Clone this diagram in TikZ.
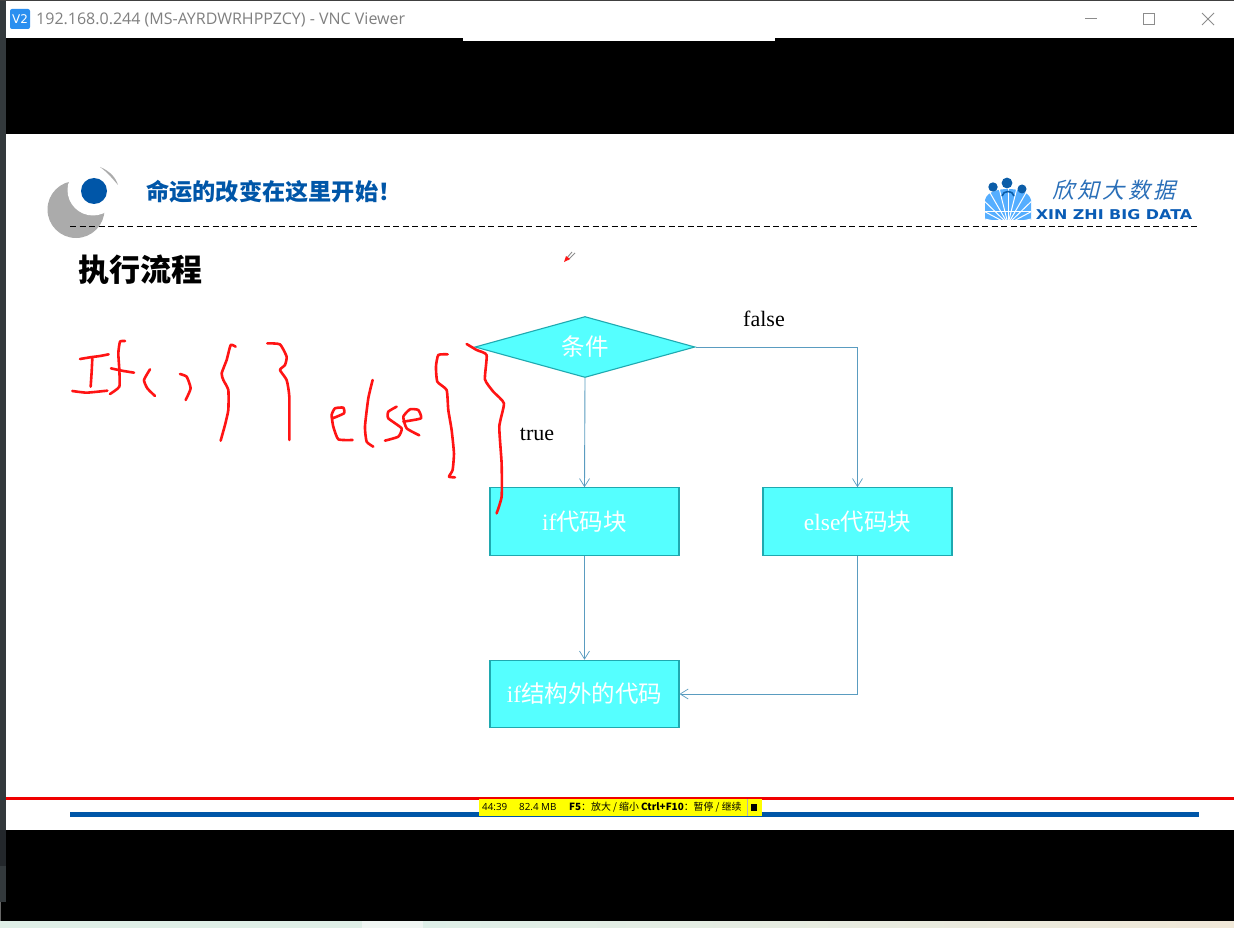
\documentclass[tikz,border=0pt]{standalone}
\usepackage{fontspec}
\setmainfont{Liberation Serif}
\newfontfamily\cjk{Noto Sans CJK SC}
\newfontfamily\ui{Open Sans}
\newfontfamily\uis{DejaVu Sans}
\usetikzlibrary{shapes.geometric,arrows.meta}
\definecolor{cy}{HTML}{55FFFF}
\definecolor{cyb}{HTML}{1FA9B0}
\definecolor{conn}{HTML}{5A9CC0}
\definecolor{brand}{HTML}{0056A8}
\definecolor{ink}{HTML}{FF1414}
\definecolor{stripA}{HTML}{DFEFE7}
\definecolor{stripB}{HTML}{F0F6F3}
\definecolor{stripC}{HTML}{DEEFE8}
\definecolor{stripD}{HTML}{F0E8D8}
\definecolor{frameA}{HTML}{33393C}
\definecolor{frameB}{HTML}{23272B}
\definecolor{vnc}{HTML}{2A8FF0}
\definecolor{logoA}{HTML}{55AEFF}
\definecolor{logoB}{HTML}{0B5DA8}
\definecolor{logoC}{HTML}{2A6FB8}
\definecolor{logoD}{HTML}{0A5CB5}
\definecolor{footred}{HTML}{F00000}
\definecolor{statbar}{HTML}{FFFF00}
\tikzset{
 x=1pt,y=-1pt,
 flowbox/.style={draw=cyb,fill=cy,line width=1.1pt,rectangle,minimum width=189pt,minimum height=67.5pt,inner sep=0pt,text=white,font=\fontsize{23.5}{25}\selectfont},
 flowdia/.style={draw=cyb,fill=cy,line width=1.1pt,diamond,aspect=3.58,minimum width=220pt,minimum height=61pt,inner sep=0pt,text=white,font=\fontsize{23.5}{25}\selectfont},
 conn/.style={draw=conn,line width=0.9pt,-{Straight Barb[length=8pt,width=10pt,line width=0.7pt]}},
 lab/.style={inner sep=0pt,font=\fontsize{22}{24}\selectfont},
 pen/.style={draw=ink,line width=2.6pt,line cap=round,line join=round},
 winbtn/.style={draw=black!45,line width=0.8pt}
}
\begin{document}
\begin{tikzpicture}
\useasboundingbox (0,0) rectangle (1234,928);
% window frame
\fill[white] (0,0) rectangle (1234,928);
\fill[frameA] (0,0) rectangle (6,902);
\fill[frameB] (0,830) rectangle (6,866);
\fill[black] (6,38) rectangle (1234,134);
\fill[black] (6,830) rectangle (1234,921);
\fill[black] (1,902) rectangle (6,921);
\fill[black!60] (0,902) rectangle (1,921);
\fill[white] (463,38) rectangle (775,41);
\fill[black!75] (0,0) rectangle (1234,1);
\fill[stripA] (0,921) rectangle (362,928);
\fill[stripB] (362,921) rectangle (423,928);
\shade[left color=stripC,right color=stripD] (423,921) rectangle (1234,928);
% title bar
\fill[vnc,rounded corners=2pt] (10,9) rectangle (30,29);
\node[inner sep=0pt,text=white,font=\uis\fontsize{12}{14}\selectfont] (vnclogo) at (20,19) {V2};
\node[anchor=west,inner sep=0pt,text=black!50,font=\ui\fontsize{16}{18}\selectfont] (wintitle) at (36,20) {192.168.0.244 (MS-AYRDWRHPPZCY) - VNC Viewer};
\draw[winbtn] (1085,18.5) -- (1097,18.5);
\draw[winbtn] (1143.5,13.5) rectangle (1154.5,24.5);
\draw[winbtn] (1202,13) -- (1214,25) (1214,13) -- (1202,25);
% slide header
\fill[black!33] (76,209.5) circle (28.5);
\fill[white] (93,190) circle (25.5);
\fill[black!33] (100,167) .. controls (110,171) and (116,178) .. (118,185) .. controls (112,178) and (107,172) .. (100,167) -- cycle;
\fill[brand] (94,191) circle (13);
\node[anchor=west,inner sep=0pt,text=brand,font=\cjk\bfseries\fontsize{23.2}{25}\selectfont] (motto) at (146,192) {命运的改变在这里开始！};
\draw[black,line width=1pt,dash pattern=on 6pt off 3.5pt] (70,227) -- (1199,227);
\node[anchor=west,inner sep=0pt,text=black,font=\cjk\bfseries\fontsize{31}{33}\selectfont] (head) at (78,270) {执行流程};
% pointer
\draw[black!45,line width=0.9pt] (566,259) -- (572,252) (568,260) -- (575,253);
\fill[ink] (564,262) -- (566,256) -- (570,259) -- cycle;
% brand logo
\fill[logoA] (985,220) -- (985,200) .. controls (987,191) and (1000,189) .. (1008,189) .. controls (1016,189) and (1029,191) .. (1031,200) -- (1031,220) -- cycle;
\begin{scope}
\clip (985,188) rectangle (1031,220);
\foreach \a in {12,28,44,60,76,90,104,120,136,152,168}{\draw[white,line width=1pt] (1008,224) -- ++(\a:-38);}
\draw[white,line width=1pt] (985,212) -- (1031,212);
\end{scope}
\draw[logoB,line width=1.6pt] (1002,196) .. controls (1003,190) and (1013,190) .. (1014,196);
\fill[logoB] (993,187) circle (4.7) (1007,183) circle (5.4) (1022,189) circle (4.5);
\node[anchor=west,inner sep=0pt,text=logoC,font=\cjk\fontsize{22}{24}\selectfont] (cnbrand) at (1052,190) {\addfontfeature{LetterSpace=15,FakeSlant=0.25}欣知大数据};
\node[anchor=center,inner sep=0pt,text=logoD,xscale=1.18,font=\uis\bfseries\fontsize{13.5}{15}\selectfont] (enbrand) at (1114,214.5) {XIN ZHI BIG DATA};
% flowchart
\node[flowdia] (cond) at (585,347) {\cjk 条件};
\node[flowbox] (ifb) at (584.5,521.5) {if\cjk 代码块};
\node[flowbox] (elseb) at (857.5,521.5) {else\cjk 代码块};
\node[flowbox] (out) at (584.5,694) {if\cjk 结构外的代码};
\draw[conn] (cond.south) -- (ifb.north);
\draw[conn] (cond.east) -| (elseb.north);
\draw[conn] (ifb.south) -- (out.north);
\draw[conn] (elseb.south) |- (out.east);
\node[lab] (ltrue) at (537,434) {true};
\node[lab] (lfalse) at (764,319) {false};
% footer
\fill[footred] (6,797) rectangle (1234,799.5);
\fill[brand] (70,812) rectangle (1199,817);
\fill[statbar] (479,799) rectangle (762,816);
\draw[black!30,line width=0.6pt] (747,799) -- (747,816);
\fill[black] (751,804) rectangle (757,811);
\node[anchor=west,inner sep=0pt,font=\ui\fontsize{9.8}{10}\selectfont] (stat1) at (482,807.5) {44:39};
\node[anchor=west,inner sep=0pt,font=\ui\fontsize{9.8}{10}\selectfont] (stat2) at (519,807.5) {82.4 MB};
\node[anchor=west,inner sep=0pt,font=\cjk\fontsize{9.9}{10}\selectfont] (stat3) at (569,807.5) {\textbf{F5}：放大 / 缩小 \textbf{Ctrl+F10}：暂停 / 继续};
% ink strokes, in 3x coordinates
\begin{scope}[shift={(60,330)},x=0.3333pt,y=-0.3333pt]
\draw[pen] plot[smooth,tension=0.3] coordinates {(60,87)(90,82)(120,78)(146,73)};
\draw[pen] plot[smooth,tension=0.3] coordinates {(97,85)(95,125)(92,170)};
\draw[pen] plot[smooth,tension=0.3] coordinates {(37,183)(80,188)(142,182)};
\draw[pen] plot[smooth,tension=0.3] coordinates {(195,33)(180,35)(175,70)(178,120)(178,170)(150,192)};
\draw[pen] plot[smooth,tension=0.3] coordinates {(153,115)(185,122)(222,128)};
\draw[pen] plot[smooth,tension=0.3] coordinates {(270,118)(252,150)(262,175)(285,198)};
\draw[pen] plot[smooth,tension=0.3] coordinates {(360,132)(380,140)(392,175)(377,210)};
\draw[pen] plot[smooth,tension=0.3] coordinates {(527,50)(512,45)(500,90)(485,130)(490,150)(505,180)(505,240)(495,285)(482,332)};
\draw[pen] plot[smooth,tension=0.3] coordinates {(622,40)(660,43)(680,80)(675,105)(660,120)(680,150)(688,200)(688,330)};
\draw[pen] plot[smooth,tension=0.3] coordinates {(818,265)(852,250)(850,233)(825,235)(815,255)(820,290)(835,328)(878,330)};
\draw[pen] plot[smooth,tension=0.3] coordinates {(938,150)(925,205)(915,290)(920,335)(940,350)};
\draw[pen] plot[smooth,tension=0.3] coordinates {(1010,230)(985,245)(985,265)(1025,295)(1015,320)(975,332)};
\draw[pen] plot[smooth,tension=0.3] coordinates {(1030,275)(1083,265)(1075,240)(1050,238)(1030,260)(1040,295)(1078,316)};
\draw[pen] plot[smooth,tension=0.3] coordinates {(1163,73)(1135,75)(1128,110)(1132,155)(1160,180)(1165,240)(1175,300)(1182,370)(1178,420)(1167,440)(1185,442)};
\draw[pen] plot[smooth,tension=0.3] coordinates {(1220,42)(1250,60)(1280,75)(1275,148)(1300,185)(1332,220)(1318,290)(1325,400)(1325,500)(1310,550)};
\end{scope}
\end{tikzpicture}
\end{document}
